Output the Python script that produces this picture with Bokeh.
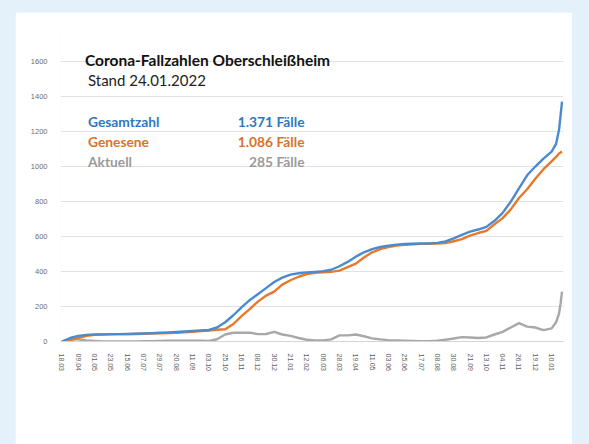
from bokeh.plotting import figure
from bokeh.layouts import column
from bokeh.models import Label, FixedTicker, Range1d
from bokeh.embed import file_html
from bokeh.resources import INLINE

# ---- data (day index since 18.03.2020) ----
days = [0, 11, 22, 33, 44, 55, 66, 77, 88, 99, 110, 121, 132, 143, 154, 165, 176, 187,
        198, 209, 220, 231, 242, 253, 264, 275, 286, 297, 308, 319, 330, 341, 352, 363,
        374, 385, 396, 407, 418, 429, 440, 451, 462, 473, 484, 495, 506, 517, 528, 539,
        550, 561, 572, 583, 594, 605, 616, 627, 638, 649, 660, 666, 670, 672, 674]
gesamtzahl = [0, 20, 32, 38, 40, 41, 42, 42, 43, 44, 46, 48, 50, 52, 54, 57, 60, 63,
              66, 80, 110, 150, 195, 236, 270, 305, 340, 365, 382, 390, 395, 398, 402, 410,
              430, 455, 485, 510, 528, 540, 548, 554, 557, 559, 560, 561, 564, 572, 590, 610,
              628, 640, 655, 690, 735, 800, 875, 950, 1000, 1045, 1085, 1130, 1210, 1290, 1371]
genesene = [0, 8, 20, 32, 38, 40, 41, 42, 42, 43, 44, 46, 47, 48, 50, 52, 55, 59,
            63, 67, 70, 100, 145, 185, 228, 262, 285, 325, 350, 370, 385, 392, 396, 398,
            405, 425, 445, 480, 510, 528, 540, 548, 553, 556, 558, 559, 560, 562, 573, 585,
            605, 620, 632, 670, 705, 755, 820, 870, 930, 985, 1030, 1055, 1075, 1080, 1086]
aktuell = [0, 12, 12, 6, 3, 1, 1, 0, 1, 1, 2, 2, 3, 4, 4, 5, 5, 4,
           3, 13, 40, 50, 50, 51, 42, 43, 55, 40, 32, 20, 10, 6, 6, 12,
           35, 35, 40, 30, 18, 12, 8, 6, 4, 3, 2, 2, 4, 10, 17, 25,
           23, 20, 23, 40, 55, 80, 105, 85, 80, 65, 75, 110, 160, 215, 285]

tick_labels = ["18.03", "09.04", "01.05", "23.05", "15.06", "07.07", "29.07", "20.08",
               "11.09", "03.10", "25.10", "16.11", "08.12", "30.12", "21.01", "12.02",
               "06.03", "28.03", "19.04", "11.05", "03.06", "25.06", "17.07", "08.08",
               "30.08", "21.09", "13.10", "04.11", "26.11", "19.12", "10.01"]
tick_step = 22
y_ticks = [0, 200, 400, 600, 800, 1000, 1200, 1400, 1600]

title = "Corona-Fallzahlen Oberschleißheim"
subtitle = "Stand 24.01.2022"
series_names = ["Gesamtzahl", "Genesene", "Aktuell"]
series_totals = ["1.371 Fälle", "1.086 Fälle", "285 Fälle"]

line_colors = ["#4a8bd0", "#e57a2c", "#a8a8a8"]
text_colors = ["#2f78c0", "#d9722a", "#9a9a9a"]

# ---- figure ----
p = figure(width=557, height=432, output_backend="svg", toolbar_location=None,
           x_range=Range1d(-2, 676), y_range=Range1d(0, 1749),
           min_border_left=45, min_border_right=9, min_border_top=23, min_border_bottom=103)
p.margin = (12, 17, 0, 15)
p.outline_line_color = None
p.background_fill_color = "white"
p.border_fill_color = "white"

for vals, col in zip([aktuell, genesene, gesamtzahl], [line_colors[2], line_colors[1], line_colors[0]]):
    p.line(days, vals, line_color=col, line_width=2.4, line_join="round")

# axes
tick_pos = [i * tick_step for i in range(len(tick_labels))]
overrides = {}
for i, (pos, lab) in enumerate(zip(tick_pos, tick_labels)):
    overrides[pos] = lab + ("\u00a0" * 5 if i == 1 else "")
p.xaxis.ticker = FixedTicker(ticks=tick_pos)
p.xaxis.major_label_overrides = overrides
p.xaxis.major_label_orientation = "vertical"
p.xaxis.major_label_text_font = "Liberation Sans"
p.xaxis.major_label_text_font_size = "7px"
p.xaxis.major_label_text_color = "#626262"
p.xaxis.major_label_standoff = 6
p.xaxis.major_tick_line_color = None
p.xaxis.minor_tick_line_color = None
p.xaxis.axis_line_color = "#d4d4d4"

p.yaxis.ticker = FixedTicker(ticks=y_ticks)
p.yaxis.major_label_text_font = "Liberation Sans"
p.yaxis.major_label_text_font_size = "7.5px"
p.yaxis.major_label_text_color = "#6e6e6e"
p.yaxis.major_label_standoff = 7
p.yaxis.major_tick_line_color = None
p.yaxis.minor_tick_line_color = None
p.yaxis.axis_line_color = None

p.xgrid.grid_line_color = None
p.ygrid.grid_line_color = "#e2e2e2"
p.ygrid.ticker = FixedTicker(ticks=y_ticks)

# text block
p.add_layout(Label(x=31, y=1607, text=title, text_font="Lato", text_font_size="15.5px",
                   text_font_style="bold", text_color="#111111", text_baseline="middle"))
p.add_layout(Label(x=35, y=1493, text=subtitle, text_font="Lato", text_font_size="15px",
                   text_color="#222222", text_baseline="middle"))
for i, (name, tot) in enumerate(zip(series_names, series_totals)):
    yv = 1258 - i * 114
    p.add_layout(Label(x=35, y=yv, text=name, text_font="Lato", text_font_size="13.8px",
                       text_font_style="bold", text_color=text_colors[i], text_baseline="middle"))
    p.add_layout(Label(x=327, y=yv, text=tot, text_font="Lato", text_font_size="13.8px",
                       text_font_style="bold", text_color=text_colors[i], text_baseline="middle",
                       text_align="right"))

layout = column(p, styles={"background-color": "#e4f1fa"})
open("out.html", "w").write(file_html(layout, INLINE))
